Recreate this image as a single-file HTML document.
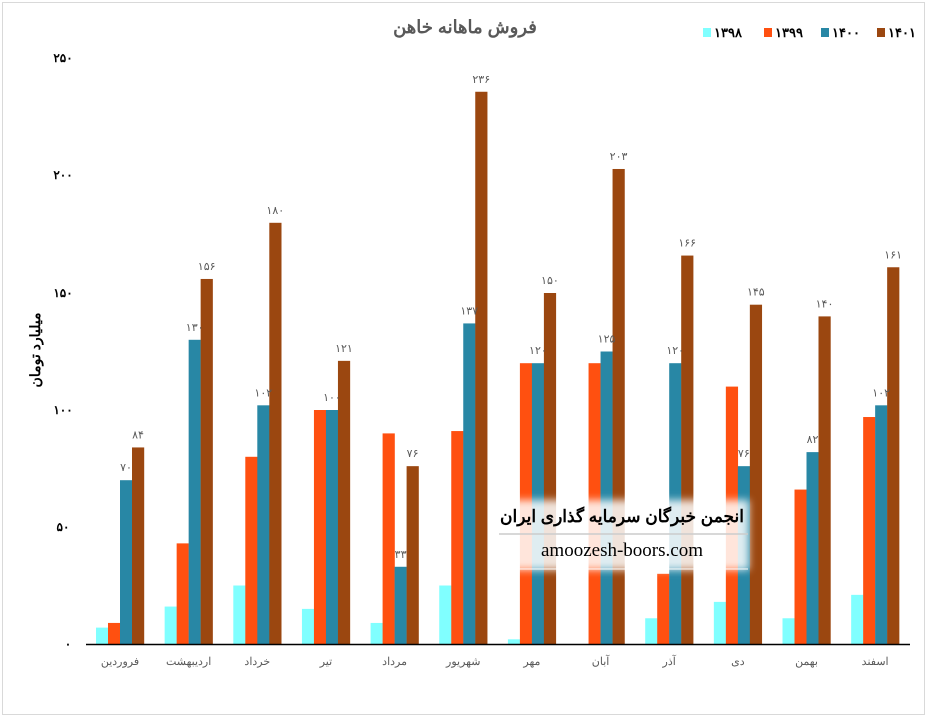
<!DOCTYPE html>
<html><head><meta charset="utf-8"><style>
body{margin:0;background:#fff}
svg text{font-family:"Liberation Sans","Noto Sans CJK SC",sans-serif}
</style></head><body>
<svg width="929" height="719" viewBox="0 0 929 719" xmlns="http://www.w3.org/2000/svg">
<rect x="2.5" y="2.5" width="922" height="712" fill="#fff" stroke="#d9d9d9"/>
<text x="465" y="33" text-anchor="middle" font-size="18" font-weight="bold" fill="#595959">فروش ماهانه خاهن</text>
<g font-size="13" font-weight="bold" fill="#000">
<rect x="703" y="28" width="8" height="9" fill="#80FFFF"/><text x="714" y="37">۱۳۹۸</text>
<rect x="764" y="28" width="8" height="9" fill="#FF5010"/><text x="775" y="37">۱۳۹۹</text>
<rect x="821" y="28" width="8" height="9" fill="#2887A5"/><text x="832" y="37">۱۴۰۰</text>
<rect x="877" y="28" width="8" height="9" fill="#9B4710"/><text x="888" y="37">۱۴۰۱</text>
</g>
<g font-size="12" font-weight="bold" fill="#000" text-anchor="middle">
<text x="63" y="62">۲۵۰</text><text x="63" y="179">۲۰۰</text><text x="63" y="297">۱۵۰</text>
<text x="63" y="414">۱۰۰</text><text x="63" y="531">۵۰</text><text x="68" y="648">۰</text>
</g>
<text transform="translate(40,350) rotate(-90)" text-anchor="middle" font-size="14" font-weight="bold" fill="#000">میلیارد تومان</text>
<g id="bars"></g>
<line x1="86" y1="644.5" x2="910" y2="644.5" stroke="#000" stroke-width="1.5"/>
<g id="labels" font-size="11" fill="#595959" text-anchor="middle"></g>
<defs><filter id="bl" x="-20%" y="-40%" width="140%" height="180%"><feGaussianBlur stdDeviation="4"/></filter></defs>
<rect x="497" y="500" width="252" height="70" fill="#fff" opacity="0.85" filter="url(#bl)"/>
<text x="622" y="522" text-anchor="middle" font-size="17" font-weight="bold" fill="#000">انجمن خبرگان سرمایه گذاری ایران</text>
<line x1="499" y1="534" x2="748" y2="534" stroke="#ccc" stroke-width="1.5"/>
<text x="622" y="556" text-anchor="middle" font-size="19" fill="#000" style="font-family:'Liberation Serif',serif">amoozesh-boors.com</text>
<line x1="499" y1="569" x2="748" y2="569" stroke="#fff" stroke-width="1"/>
</svg>
<script>
const d=[["فروردین",7,9,70,84],["اردیبهشت",16,43,130,156],["خرداد",25,80,102,180],["تیر",15,100,100,121],["مرداد",9,90,33,76],["شهریور",25,91,137,236],["مهر",2,120,120,150],["آبان",0,120,125,203],["آذر",11,30,120,166],["دی",18,110,76,145],["بهمن",11,66,82,140],["اسفند",21,97,102,161]];
const c=["#80FFFF","#FF5010","#2887A5","#9B4710"];
const fa=n=>String(n).replace(/\d/g,x=>"۰۱۲۳۴۵۶۷۸۹"[x]);
let b="",l="";
d.forEach((r,i)=>{const x0=96+i*68.65;
for(let k=0;k<4;k++){const v=r[k+1],h=v*2.34,x=x0+k*12;
b+=`<rect x="${x}" y="${644-h}" width="12.2" height="${h}" fill="${c[k]}"/>`;
if(k>=2)l+=`<text x="${x+6}" y="${644-h-9}">${fa(v)}</text>`;}
l+=`<text x="${x0+24}" y="665">${r[0]}</text>`;});
document.getElementById("bars").innerHTML=b;
document.getElementById("labels").innerHTML=l;
</script>
</body></html>
